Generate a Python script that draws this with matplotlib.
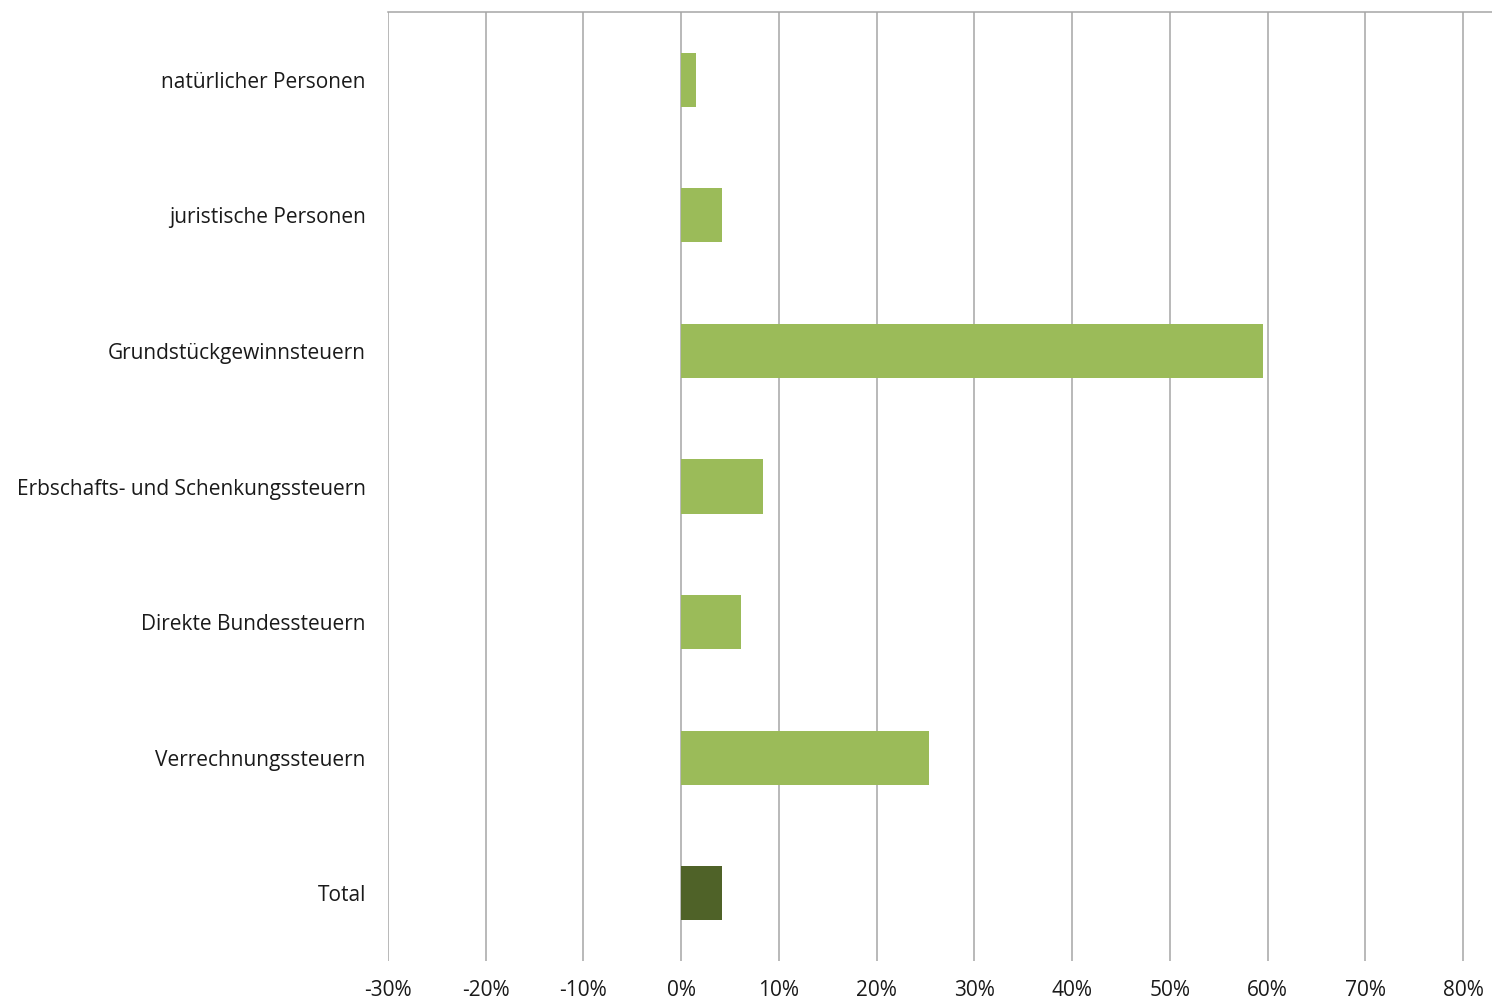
import matplotlib
matplotlib.use("Agg")
import matplotlib.pyplot as plt
from matplotlib.ticker import FuncFormatter

categories = ["natürlicher Personen", "juristische Personen", "Grundstückgewinnsteuern",
              "Erbschafts- und Schenkungssteuern", "Direkte Bundessteuern",
              "Verrechnungssteuern", "Total"]
values = [1.5, 4.2, 59.5, 8.4, 6.1, 25.3, 4.2]
colors = ["#9BBB59"] * 6 + ["#4F6228"]
xticks = [-30, -20, -10, 0, 10, 20, 30, 40, 50, 60, 70, 80]

plt.rcParams['font.family'] = ['Open Sans', 'DejaVu Sans']

fig = plt.figure(figsize=(14.92, 10.05), dpi=100)
ax = fig.add_axes([388/1492, 1 - 961/1005, 1 - 388/1492, (961 - 12)/1005])

y = list(range(len(categories)))
ax.barh(y, values, height=0.4, color=colors, zorder=3)
ax.set_ylim(len(categories) - 0.5, -0.5)
ax.set_xlim(-30, 82.95)
ax.set_xticks(xticks)
ax.xaxis.set_major_formatter(FuncFormatter(lambda v, p: f"{v:.0f}%"))
ax.set_yticks(y)
ax.set_yticklabels(categories)

ax.grid(axis='x', color='#A6A6A6', linewidth=1.1, zorder=0)
ax.tick_params(axis='y', length=0, pad=16, labelsize=15, labelcolor='#1a1a1a')
ax.tick_params(axis='x', length=0, pad=14, labelsize=15, labelcolor='#1a1a1a')

for s in ['left', 'right', 'bottom']:
    ax.spines[s].set_visible(False)
ax.spines['top'].set_color('#A6A6A6')
ax.spines['top'].set_linewidth(1.1)

fig.savefig("out.png", dpi=100)
